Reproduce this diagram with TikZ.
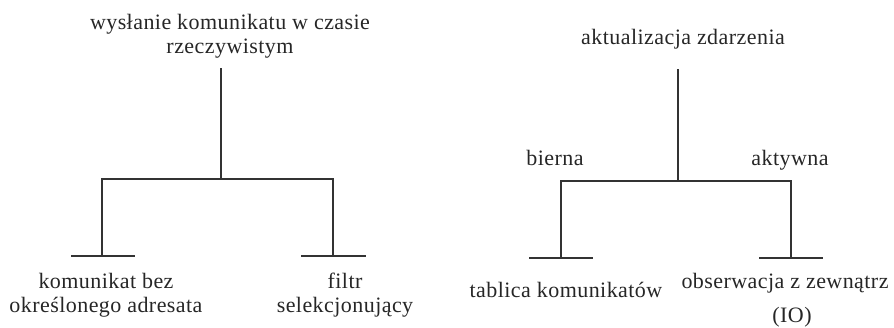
\documentclass[tikz,border=0pt]{standalone}
\usepackage{fontspec}
\setmainfont[LetterSpace=2]{Liberation Serif}
\usetikzlibrary{positioning}
\tikzstyle{txt}=[font=\fontsize{22}{24}\selectfont, align=center, inner sep=0pt, text=black!85, anchor=base]
\tikzstyle{ln}=[line width=1.8pt, draw=black!80]
\tikzstyle{bar}=[line width=2.4pt, draw=black!80]

\begin{document}
\begin{tikzpicture}[x=1pt,y=-1pt]
\useasboundingbox (0,0) rectangle (894,327);
% wysylanie komunikatu (base = last line)
\node[txt] (wys) at (230,53) {wysłanie komunikatu w czasie\\rzeczywistym};
\node[txt] (kom) at (106,312) {komunikat bez\\określonego adresata};
\node[txt] (fil) at (345,312) {filtr\\selekcjonujący};
\coordinate (wt) at (221,68);
\coordinate (wj) at (221,179);
\coordinate (wl) at (102,256);
\coordinate (wr) at (333,256);
\draw[ln] (wt) -- (wj);
\draw[ln] (wl) |- (wj) -| (wr);
\draw[bar] ([xshift=-31pt]wl) -- ([xshift=33pt]wl);
\draw[bar] ([xshift=-32pt]wr) -- ([xshift=33pt]wr);

% aktualizacja zdarzenia
\node[txt] (akt) at (683,44) {aktualizacja zdarzenia};
\node[txt] (bie) at (555,165) {bierna};
\node[txt] (aktw) at (790,165) {aktywna};
\node[txt] (tab) at (566,297) {tablica komunikatów};
\node[txt] (obs) at (785,288) {obserwacja z zewnątrz};
\node[txt] (io) at (792,322) {(IO)};
\coordinate (at) at (678,69);
\coordinate (aj) at (678,181);
\coordinate (al) at (561,258);
\coordinate (ar) at (791,258);
\draw[ln] (at) -- (aj);
\draw[ln] (al) |- (aj) -| (ar);
\draw[bar] ([xshift=-32pt]al) -- ([xshift=32pt]al);
\draw[bar] ([xshift=-32pt]ar) -- ([xshift=32pt]ar);
\end{tikzpicture}
\end{document}
